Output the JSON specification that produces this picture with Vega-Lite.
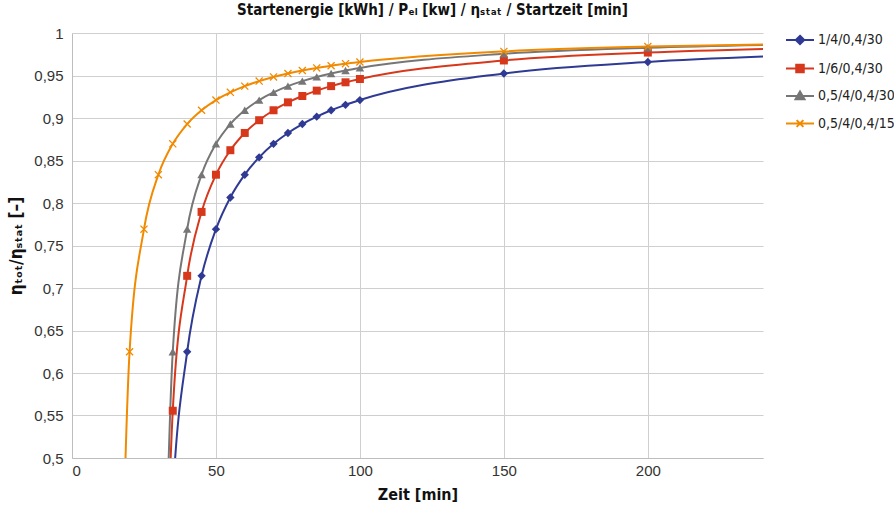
{
  "$schema": "https://vega.github.io/schema/vega-lite/v6.json",
  "autosize": {"type": "none"},
  "padding": {"left": 72, "top": 33, "right": 131, "bottom": 49},
  "width": 691,
  "height": 425,
  "background": "white",
  "title": {
    "text": "Startenergie [kWh] / Pₑₗ [kw] / ηₛₜₐₜ / Startzeit [min]",
    "font": "DejaVu Sans Condensed, Roboto, sans-serif",
    "fontSize": 15,
    "fontWeight": "bold",
    "color": "#111111",
    "anchor": "middle",
    "dx": 15,
    "offset": 7
  },
  "data": {
    "values": [
      {"s": "1/4/0,4/30", "t": 30, "v": 0},
      {"s": "1/4/0,4/30", "t": 35, "v": 0.4545},
      {"s": "1/4/0,4/30", "t": 40, "v": 0.625},
      {"s": "1/4/0,4/30", "t": 45, "v": 0.7143},
      {"s": "1/4/0,4/30", "t": 50, "v": 0.7692},
      {"s": "1/4/0,4/30", "t": 55, "v": 0.8065},
      {"s": "1/4/0,4/30", "t": 60, "v": 0.8333},
      {"s": "1/4/0,4/30", "t": 65, "v": 0.8537},
      {"s": "1/4/0,4/30", "t": 70, "v": 0.8696},
      {"s": "1/4/0,4/30", "t": 75, "v": 0.8824},
      {"s": "1/4/0,4/30", "t": 80, "v": 0.8929},
      {"s": "1/4/0,4/30", "t": 85, "v": 0.9016},
      {"s": "1/4/0,4/30", "t": 90, "v": 0.9091},
      {"s": "1/4/0,4/30", "t": 95, "v": 0.9155},
      {"s": "1/4/0,4/30", "t": 100, "v": 0.9211},
      {"s": "1/4/0,4/30", "t": 150, "v": 0.9524},
      {"s": "1/4/0,4/30", "t": 200, "v": 0.9659},
      {"s": "1/4/0,4/30", "t": 250, "v": 0.9735},
      {"s": "1/6/0,4/30", "t": 30, "v": 0},
      {"s": "1/6/0,4/30", "t": 35, "v": 0.5556},
      {"s": "1/6/0,4/30", "t": 40, "v": 0.7143},
      {"s": "1/6/0,4/30", "t": 45, "v": 0.7895},
      {"s": "1/6/0,4/30", "t": 50, "v": 0.8333},
      {"s": "1/6/0,4/30", "t": 55, "v": 0.8621},
      {"s": "1/6/0,4/30", "t": 60, "v": 0.8824},
      {"s": "1/6/0,4/30", "t": 65, "v": 0.8974},
      {"s": "1/6/0,4/30", "t": 70, "v": 0.9091},
      {"s": "1/6/0,4/30", "t": 75, "v": 0.9184},
      {"s": "1/6/0,4/30", "t": 80, "v": 0.9259},
      {"s": "1/6/0,4/30", "t": 85, "v": 0.9322},
      {"s": "1/6/0,4/30", "t": 90, "v": 0.9375},
      {"s": "1/6/0,4/30", "t": 95, "v": 0.942},
      {"s": "1/6/0,4/30", "t": 100, "v": 0.9459},
      {"s": "1/6/0,4/30", "t": 150, "v": 0.9677},
      {"s": "1/6/0,4/30", "t": 200, "v": 0.977},
      {"s": "1/6/0,4/30", "t": 250, "v": 0.9821},
      {"s": "0,5/4/0,4/30", "t": 30, "v": 0},
      {"s": "0,5/4/0,4/30", "t": 35, "v": 0.625},
      {"s": "0,5/4/0,4/30", "t": 40, "v": 0.7692},
      {"s": "0,5/4/0,4/30", "t": 45, "v": 0.8333},
      {"s": "0,5/4/0,4/30", "t": 50, "v": 0.8696},
      {"s": "0,5/4/0,4/30", "t": 55, "v": 0.8929},
      {"s": "0,5/4/0,4/30", "t": 60, "v": 0.9091},
      {"s": "0,5/4/0,4/30", "t": 65, "v": 0.9211},
      {"s": "0,5/4/0,4/30", "t": 70, "v": 0.9302},
      {"s": "0,5/4/0,4/30", "t": 75, "v": 0.9375},
      {"s": "0,5/4/0,4/30", "t": 80, "v": 0.9434},
      {"s": "0,5/4/0,4/30", "t": 85, "v": 0.9483},
      {"s": "0,5/4/0,4/30", "t": 90, "v": 0.9524},
      {"s": "0,5/4/0,4/30", "t": 95, "v": 0.9559},
      {"s": "0,5/4/0,4/30", "t": 100, "v": 0.9589},
      {"s": "0,5/4/0,4/30", "t": 150, "v": 0.9756},
      {"s": "0,5/4/0,4/30", "t": 200, "v": 0.9827},
      {"s": "0,5/4/0,4/30", "t": 250, "v": 0.9865},
      {"s": "0,5/4/0,4/15", "t": 15, "v": 0},
      {"s": "0,5/4/0,4/15", "t": 20, "v": 0.625},
      {"s": "0,5/4/0,4/15", "t": 25, "v": 0.7692},
      {"s": "0,5/4/0,4/15", "t": 30, "v": 0.8333},
      {"s": "0,5/4/0,4/15", "t": 35, "v": 0.8696},
      {"s": "0,5/4/0,4/15", "t": 40, "v": 0.8929},
      {"s": "0,5/4/0,4/15", "t": 45, "v": 0.9091},
      {"s": "0,5/4/0,4/15", "t": 50, "v": 0.9211},
      {"s": "0,5/4/0,4/15", "t": 55, "v": 0.9302},
      {"s": "0,5/4/0,4/15", "t": 60, "v": 0.9375},
      {"s": "0,5/4/0,4/15", "t": 65, "v": 0.9434},
      {"s": "0,5/4/0,4/15", "t": 70, "v": 0.9483},
      {"s": "0,5/4/0,4/15", "t": 75, "v": 0.9524},
      {"s": "0,5/4/0,4/15", "t": 80, "v": 0.9559},
      {"s": "0,5/4/0,4/15", "t": 85, "v": 0.9589},
      {"s": "0,5/4/0,4/15", "t": 90, "v": 0.9615},
      {"s": "0,5/4/0,4/15", "t": 95, "v": 0.9639},
      {"s": "0,5/4/0,4/15", "t": 100, "v": 0.9659},
      {"s": "0,5/4/0,4/15", "t": 150, "v": 0.9783},
      {"s": "0,5/4/0,4/15", "t": 200, "v": 0.984},
      {"s": "0,5/4/0,4/15", "t": 250, "v": 0.9872}
    ]
  },
  "encoding": {
    "x": {
      "field": "t",
      "type": "quantitative",
      "scale": {"domain": [0, 240], "nice": false, "zero": false},
      "axis": {
        "title": "Zeit [min]",
        "values": [0, 50, 100, 150, 200],
        "grid": true,
        "gridColor": "#cfcfcf",
        "gridWidth": 1,
        "ticks": false,
        "domainColor": "#bdbdbd",
        "labelFont": "Liberation Sans",
        "labelFontSize": 15,
        "labelColor": "#333333",
        "labelPadding": 5,
        "titleFont": "DejaVu Sans Condensed, Roboto, sans-serif",
        "titleFontSize": 16,
        "titleFontWeight": "bold",
        "titleColor": "#111111",
        "titlePadding": 8
      }
    },
    "y": {
      "field": "v",
      "type": "quantitative",
      "scale": {"domain": [0.5, 1], "nice": false, "zero": false},
      "axis": {
        "title": "ηₜₒₜ/ηₛₜₐₜ [–]",
        "values": [0.5, 0.55, 0.6, 0.65, 0.7, 0.75, 0.8, 0.85, 0.9, 0.95, 1],
        "labelExpr": "replace(format(datum.value, '.2~f'), '.', ',')",
        "grid": true,
        "gridColor": "#cfcfcf",
        "gridWidth": 1,
        "ticks": false,
        "domainColor": "#bdbdbd",
        "labelFont": "Liberation Sans",
        "labelFontSize": 15,
        "labelColor": "#333333",
        "labelPadding": 9,
        "titleFont": "DejaVu Sans Condensed, Roboto, sans-serif",
        "titleFontSize": 17,
        "titleFontWeight": "bold",
        "titleColor": "#111111",
        "titlePadding": 8
      }
    },
    "color": {
      "field": "s",
      "type": "nominal",
      "scale": {
        "domain": ["1/4/0,4/30", "1/6/0,4/30", "0,5/4/0,4/30", "0,5/4/0,4/15"],
        "range": ["#2E3A93", "#D7381C", "#767676", "#F18A00"]
      },
      "legend": {
        "title": null,
        "orient": "none",
        "legendX": 713,
        "legendY": -8,
        "symbolSize": 784,
        "symbolStrokeWidth": 2,
        "labelFont": "DejaVu Sans Condensed, Roboto, sans-serif",
        "labelFontSize": 14,
        "labelColor": "#222222",
        "labelOffset": 3,
        "rowPadding": 4.5,
        "padding": 0,
        "encode": {
          "symbols": {
            "update": {
              "shape": {"signal": "datum.value === '1/4/0,4/30' ? 'M-1,0L1,0M0,-0.3L0.3,0L0,0.3L-0.3,0Z' : datum.value === '1/6/0,4/30' ? 'M-1,0L1,0M-0.27,-0.27L0.27,-0.27L0.27,0.27L-0.27,0.27Z' : datum.value === '0,5/4/0,4/30' ? 'M-1,0L1,0M0,-0.32L0.32,0.24L-0.32,0.24Z' : 'M-1,0L1,0M-0.24,-0.24L0.24,0.24M-0.24,0.24L0.24,-0.24'"},
              "fill": {"signal": "scale('color', datum.value)"},
              "stroke": {"signal": "scale('color', datum.value)"},
              "strokeWidth": {"value": 2},
              "opacity": {"value": 1}
            }
          }
        }
      }
    }
  },
  "layer": [
    {
      "mark": {"type": "line", "strokeWidth": 2, "clip": true, "interpolate": "monotone"}
    },
    {
      "transform": [{"filter": "datum.s === '1/4/0,4/30'"}],
      "mark": {"type": "point", "shape": "diamond", "filled": true, "size": 70, "opacity": 1, "clip": true}
    },
    {
      "transform": [{"filter": "datum.s === '1/6/0,4/30'"}],
      "mark": {"type": "point", "shape": "square", "filled": true, "size": 64, "opacity": 1, "clip": true}
    },
    {
      "transform": [{"filter": "datum.s === '0,5/4/0,4/30'"}],
      "mark": {"type": "point", "shape": "triangle-up", "filled": true, "size": 72, "opacity": 1, "clip": true}
    },
    {
      "transform": [{"filter": "datum.s === '0,5/4/0,4/15'"}],
      "mark": {"type": "point", "shape": "M-1,-1L1,1M-1,1L1,-1", "filled": false, "size": 50, "strokeWidth": 1.3, "opacity": 1, "clip": true}
    }
  ],
  "config": {
    "view": {"stroke": null},
    "axis": {"gridOpacity": 1}
  }
}
